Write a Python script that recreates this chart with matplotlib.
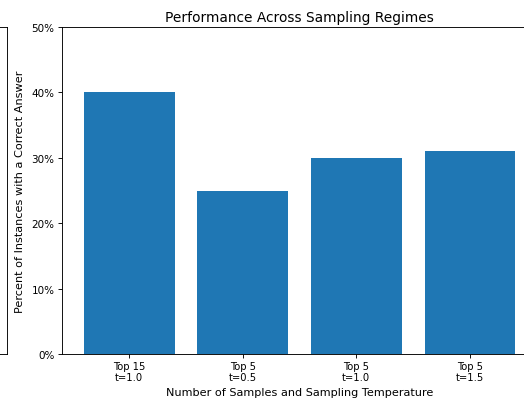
import matplotlib
matplotlib.use("Agg")
import matplotlib.pyplot as plt
from matplotlib.ticker import PercentFormatter

categories = ["Top 15\nt=1.0", "Top 5\nt=0.5", "Top 5\nt=1.0", "Top 5\nt=1.5"]
values = [0.40, 0.25, 0.30, 0.31]
yticks = [0.0, 0.1, 0.2, 0.3, 0.4, 0.5]

W, H = 524, 402
plt.rcParams.update({
    "axes.linewidth": 0.65,
    "xtick.major.width": 0.65,
    "ytick.major.width": 0.65,
    "xtick.major.size": 2.7,
    "ytick.major.size": 2.7,
    "xtick.major.pad": 2.7,
    "ytick.major.pad": 2.7,
})
fig = plt.figure(figsize=(W / 100, H / 100), dpi=100)

# neighbouring (cropped) panel on the left
ax0 = fig.add_axes([-0.5, (H - 355) / H, 0.5 + 7 / W, 327 / H])
ax0.set_xticks([])
ax0.set_yticks([])

ax = fig.add_axes([62 / W, (H - 355) / H, 475 / W, 327 / H])
x = list(range(len(categories)))
ax.bar(x, values, width=0.8, color="#1f77b4")
ax.set_xticks(x)
ax.set_xticklabels(categories, fontsize=7.2, linespacing=1.05)
ax.set_ylim(0, 0.5)
ax.set_yticks(yticks)
ax.yaxis.set_major_formatter(PercentFormatter(1.0, decimals=0))
ax.tick_params(axis="y", labelsize=7.5)
ax.set_xlabel("Number of Samples and Sampling Temperature", fontsize=8.15, labelpad=3.5)
ax.set_ylabel("Percent of Instances with a Correct Answer", fontsize=8.15, labelpad=5)
ax.set_title("Performance Across Sampling Regimes", fontsize=9.9, pad=4.5)

fig.savefig("out.png", dpi=100)
